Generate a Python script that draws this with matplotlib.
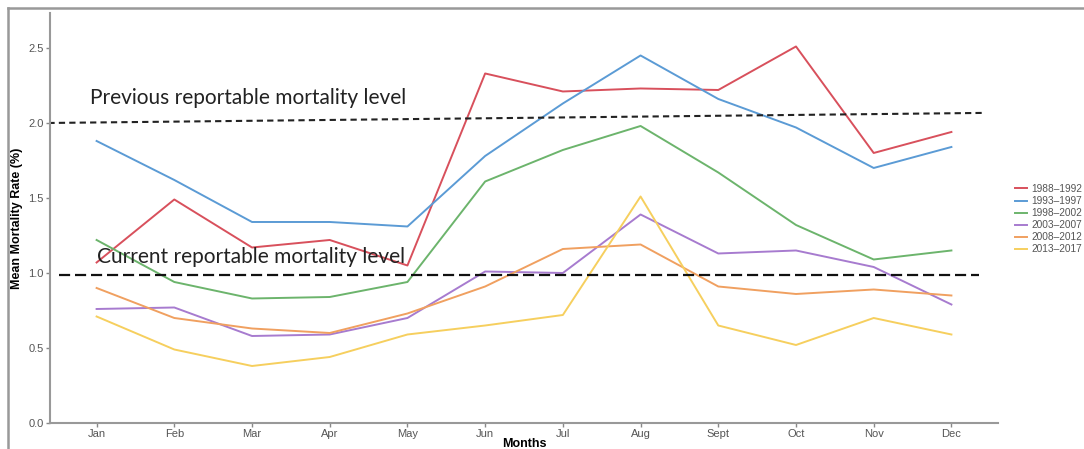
import matplotlib
matplotlib.use('Agg')
import matplotlib.pyplot as plt
from matplotlib.lines import Line2D

months = ['Jan', 'Feb', 'Mar', 'Apr', 'May', 'Jun', 'Jul', 'Aug', 'Sept', 'Oct', 'Nov', 'Dec']
periods = ['1988\u20131992', '1993\u20131997', '1998\u20132002', '2003\u20132007', '2008\u20132012', '2013\u20132017']

rate_1988 = [1.07, 1.49, 1.17, 1.22, 1.05, 2.33, 2.21, 2.23, 2.22, 2.51, 1.80, 1.94]
rate_1993 = [1.88, 1.62, 1.34, 1.34, 1.31, 1.78, 2.13, 2.45, 2.16, 1.97, 1.70, 1.84]
rate_1998 = [1.22, 0.94, 0.83, 0.84, 0.94, 1.61, 1.82, 1.98, 1.67, 1.32, 1.09, 1.15]
rate_2003 = [0.76, 0.77, 0.58, 0.59, 0.70, 1.01, 1.00, 1.39, 1.13, 1.15, 1.04, 0.79]
rate_2008 = [0.90, 0.70, 0.63, 0.60, 0.73, 0.91, 1.16, 1.19, 0.91, 0.86, 0.89, 0.85]
rate_2013 = [0.71, 0.49, 0.38, 0.44, 0.59, 0.65, 0.72, 1.51, 0.65, 0.52, 0.70, 0.59]

colors = ['#d8505c', '#5b9bd5', '#6cb46c', '#a77bcf', '#f0a060', '#f6cf5e']

previous_level = [2.0, 2.067]
current_level = 0.985

fig = plt.figure(figsize=(10.84, 4.49), dpi=100)
ax = fig.add_axes([0.0461, 0.0579, 0.8746, 0.9131])

x = list(range(len(months)))
for values, label, color in zip(
        [rate_1988, rate_1993, rate_1998, rate_2003, rate_2008, rate_2013], periods, colors):
    ax.plot(x, values, color=color, lw=1.4, label=label)

ax.plot([-0.62, 11.39], previous_level, color='#222222', lw=1.5, dashes=(3, 2))
ax.plot([-0.48, 11.35], [current_level, current_level], color='#111111', lw=1.6, dashes=(5, 2.2))

ax.text(-0.09, 2.165, 'Previous reportable mortality level', fontsize=15,
        family='Lato', color='#222222', va='center', ha='left')
ax.text(0.0, 1.107, 'Current reportable mortality level', fontsize=15,
        family='Lato', color='#222222', va='center', ha='left')

ax.set_xlim(-0.6, 11.6)
ax.set_ylim(0, 2.733)
ax.set_xticks(x)
ax.set_xticklabels(months)
ax.set_yticks([0.0, 0.5, 1.0, 1.5, 2.0, 2.5])
ax.set_yticklabels(['0.0', '0.5', '1.0', '1.5', '2.0', '2.5'])
ax.tick_params(colors='#888888', labelcolor='#555555', labelsize=8, length=3, width=1, pad=1.5)
for lbl in ax.get_xticklabels() + ax.get_yticklabels():
    lbl.set_family('Liberation Sans')

for side in ['top', 'right']:
    ax.spines[side].set_visible(False)
for side in ['left', 'bottom']:
    ax.spines[side].set_color('#999999')
    ax.spines[side].set_linewidth(1.5)

ax.set_xlabel('Months', fontsize=9, fontweight='bold', family='Liberation Sans', labelpad=-1)
ax.set_ylabel('Mean Mortality Rate (%)', fontsize=9, fontweight='bold', family='Liberation Sans', labelpad=4)

leg = ax.legend(loc='center left', bbox_to_anchor=(0.9315, 0.512), bbox_transform=fig.transFigure,
                frameon=False, handlelength=1.2, handletextpad=0.4,
                labelspacing=0.2, borderpad=0, prop={'family': 'Liberation Sans', 'size': 7.3})
for t in leg.get_texts():
    t.set_color('#555555')

# grey panel border: only top and left edges are visible in the picture
fig.add_artist(Line2D([8 / 1084, 1.0], [1 - 8 / 449, 1 - 8 / 449], color='#999999', lw=1.8))
fig.add_artist(Line2D([8 / 1084, 8 / 1084], [0.0, 1 - 8 / 449], color='#999999', lw=1.8))

fig.savefig('out.png', dpi=100)
